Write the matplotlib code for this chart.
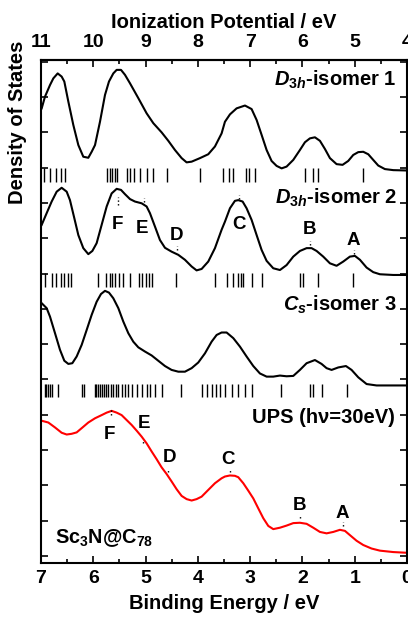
import matplotlib
matplotlib.use('Agg')
import matplotlib.pyplot as plt
from matplotlib.ticker import MultipleLocator

# ---- data (binding energy in eV, intensity in arb. units) ----
iso1_x = [6.987, 6.924, 6.828, 6.764, 6.681, 6.605, 6.554, 6.477, 6.382, 6.286, 6.191, 6.095, 6.031,
          5.967, 5.872, 5.776, 5.700, 5.617, 5.553, 5.470, 5.394, 5.298, 5.139, 4.980, 4.852, 4.693,
          4.565, 4.438, 4.310, 4.215, 4.119, 3.960, 3.801, 3.673, 3.546, 3.482, 3.386, 3.259, 3.099,
          2.972, 2.876, 2.781, 2.685, 2.590, 2.494, 2.398, 2.303, 2.175, 2.048, 1.952, 1.857, 1.761,
          1.665, 1.570, 1.474, 1.347, 1.232, 1.124, 1.028, 0.932, 0.837, 0.741, 0.646, 0.550, 0.423,
          0.263, 0.008]
iso1_y = [12.68, 13.01, 13.34, 13.53, 13.67, 13.58, 13.44, 12.87, 12.21, 11.64, 11.31, 11.28, 11.45,
          11.64, 12.30, 13.06, 13.44, 13.67, 13.77, 13.77, 13.63, 13.39, 12.97, 12.54, 12.26, 12.00,
          11.76, 11.50, 11.27, 11.15, 11.17, 11.27, 11.38, 11.60, 11.97, 12.30, 12.51, 12.68, 12.76,
          12.66, 12.35, 11.93, 11.50, 11.19, 11.05, 10.98, 11.03, 11.22, 11.50, 11.72, 11.83, 11.86,
          11.76, 11.53, 11.27, 11.10, 11.08, 11.19, 11.36, 11.44, 11.45, 11.38, 11.22, 11.06, 10.96,
          10.93, 10.92]
iso1_sticks = [6.943, 6.828, 6.713, 6.618, 6.541, 5.744, 5.681, 5.633, 5.585, 5.537, 5.361, 5.298,
               5.222, 5.107, 4.973, 4.859, 4.597, 3.960, 3.514, 3.405, 3.335, 3.080, 3.017, 2.908,
               1.952, 1.799, 1.698, 0.837]

iso2_x = [6.987, 6.892, 6.796, 6.700, 6.605, 6.509, 6.446, 6.363, 6.286, 6.191, 6.095, 6.018, 5.936,
          5.840, 5.744, 5.649, 5.553, 5.470, 5.394, 5.298, 5.203, 5.075, 4.980, 4.916, 4.820, 4.725,
          4.629, 4.502, 4.374, 4.247, 4.119, 4.024, 3.928, 3.801, 3.673, 3.546, 3.482, 3.386, 3.291,
          3.227, 3.144, 3.068, 2.972, 2.876, 2.781, 2.685, 2.558, 2.430, 2.303, 2.175, 2.048, 1.920,
          1.825, 1.729, 1.602, 1.474, 1.347, 1.219, 1.092, 0.996, 0.900, 0.773, 0.646, 0.518, 0.263,
          0.008]
iso2_y = [9.38, 9.71, 10.04, 10.32, 10.43, 10.32, 10.08, 9.57, 9.09, 8.72, 8.55, 8.64, 8.86,
          9.38, 9.90, 10.27, 10.40, 10.37, 10.25, 10.11, 10.04, 9.99, 9.90, 9.71, 9.33, 8.95,
          8.73, 8.62, 8.53, 8.39, 8.20, 8.09, 8.13, 8.34, 8.72, 9.24, 9.47, 9.85, 10.06,
          10.08, 10.04, 9.85, 9.52, 9.09, 8.67, 8.36, 8.15, 8.10, 8.24, 8.48, 8.64, 8.72,
          8.72, 8.64, 8.48, 8.29, 8.22, 8.34, 8.48, 8.50, 8.39, 8.17, 8.04, 7.98, 7.96,
          7.96]
iso2_sticks = [6.933, 6.790, 6.713, 6.627, 6.560, 6.493, 6.417, 5.904, 5.757, 5.681, 5.642, 5.576,
               5.509, 5.432, 5.289, 5.126, 5.063, 4.992, 4.935, 4.868, 4.413, 3.673, 3.449, 3.329,
               3.233, 3.182, 3.132, 2.966, 2.780, 2.048, 1.981, 1.694, 1.029]

iso3_x = [6.987, 6.892, 6.828, 6.732, 6.637, 6.554, 6.477, 6.401, 6.318, 6.222, 6.127, 6.031, 5.936,
          5.853, 5.776, 5.700, 5.617, 5.521, 5.426, 5.330, 5.235, 5.139, 5.011, 4.884, 4.757, 4.629,
          4.502, 4.374, 4.247, 4.119, 3.992, 3.864, 3.737, 3.641, 3.546, 3.450, 3.322, 3.195, 3.068,
          2.940, 2.813, 2.685, 2.558, 2.430, 2.303, 2.175, 2.048, 1.920, 1.761, 1.634, 1.538, 1.442,
          1.315, 1.168, 1.060, 0.932, 0.773, 0.582, 0.008]
iso3_y = [7.16, 7.02, 6.78, 6.31, 5.84, 5.53, 5.44, 5.46, 5.65, 5.98, 6.40, 6.83, 7.20,
          7.42, 7.51, 7.46, 7.30, 7.02, 6.64, 6.31, 6.07, 5.91, 5.79, 5.68, 5.53, 5.38,
          5.27, 5.22, 5.22, 5.32, 5.48, 5.74, 6.07, 6.26, 6.33, 6.33, 6.17, 5.93, 5.65,
          5.38, 5.17, 5.08, 5.08, 5.11, 5.09, 5.10, 5.27, 5.46, 5.55, 5.44, 5.32, 5.27,
          5.34, 5.38, 5.27, 5.06, 4.87, 4.83, 4.83]
iso3_sticks = [6.933, 6.904, 6.866, 6.828, 6.790, 6.675, 6.222, 6.178, 5.967, 5.939, 5.910, 5.872,
               5.839, 5.795, 5.757, 5.713, 5.667, 5.618, 5.566, 5.522, 5.457, 5.394, 5.331, 5.266,
               5.170, 5.075, 4.979, 4.916, 4.820, 4.692, 4.329, 3.927, 3.832, 3.730, 3.654, 3.577,
               3.482, 3.354, 3.227, 3.099, 2.966, 2.417, 1.857, 1.794, 1.633, 1.155]

ups_x = [6.987, 6.860, 6.732, 6.605, 6.509, 6.414, 6.318, 6.222, 6.095, 5.967, 5.840, 5.744, 5.649,
         5.553, 5.458, 5.362, 5.266, 5.171, 5.075, 4.980, 4.884, 4.788, 4.693, 4.597, 4.502, 4.406,
         4.310, 4.215, 4.119, 4.024, 3.928, 3.801, 3.673, 3.546, 3.482, 3.386, 3.291, 3.227, 3.131,
         3.036, 2.940, 2.845, 2.749, 2.653, 2.558, 2.430, 2.303, 2.175, 2.048, 1.920, 1.793, 1.665,
         1.538, 1.410, 1.283, 1.187, 1.092, 0.964, 0.837, 0.678, 0.518, 0.263, 0.008]
ups_y = [3.83, 3.78, 3.64, 3.49, 3.44, 3.46, 3.50, 3.62, 3.78, 3.90, 3.99, 4.06, 4.11,
         4.06, 3.99, 3.85, 3.71, 3.55, 3.38, 3.19, 2.96, 2.74, 2.51, 2.32, 2.11, 1.89,
         1.70, 1.61, 1.57, 1.61, 1.68, 1.87, 2.06, 2.20, 2.25, 2.28, 2.27, 2.23, 2.06,
         1.85, 1.63, 1.35, 1.07, 0.85, 0.76, 0.80, 0.86, 0.93, 0.94, 0.91, 0.80, 0.68,
         0.64, 0.68, 0.74, 0.71, 0.59, 0.43, 0.31, 0.21, 0.15, 0.11, 0.09]

peak_names = ['F', 'E', 'D', 'C', 'B', 'A']
# peak labels and marker positions for D3h-isomer 2
calc_peak_x = [5.522, 5.031, 4.394, 3.214, 1.857, 1.015]
calc_peak_lo = [9.94, 10.03, 8.67, 10.11, 8.81, 8.56]
calc_peak_hi = [10.18, 10.14, 8.78, 10.23, 8.92, 8.67]
calc_lab_x = [5.534, 5.063, 4.405, 3.214, 1.870, 1.029]
calc_lab_y = [9.38, 9.28, 9.07, 9.40, 9.25, 8.95]
# peak labels and marker positions for UPS
ups_peak_x = [5.662, 5.044, 4.566, 3.386, 2.048, 1.231]
ups_peak_lo = [3.99, 3.20, 2.38, 2.38, 1.08, 0.85]
ups_peak_hi = [4.19, 3.29, 2.46, 2.46, 1.16, 0.96]
ups_lab_x = [5.700, 5.025, 4.533, 3.419, 2.048, 1.231]
ups_lab_y = [3.43, 3.76, 2.80, 2.74, 1.42, 1.19]

plt.rcParams['font.family'] = 'Liberation Sans'
plt.rcParams['font.weight'] = 'bold'
plt.rcParams['mathtext.fontset'] = 'custom'
plt.rcParams['mathtext.rm'] = 'Liberation Sans:bold'
plt.rcParams['mathtext.it'] = 'Liberation Sans:bold:italic'
plt.rcParams['mathtext.bf'] = 'Liberation Sans:bold'

fig = plt.figure(figsize=(4.08, 6.18), dpi=100)
ax = fig.add_axes([41/408, 1-563/618, 366/408, 503/618])

ax.plot(iso1_x, iso1_y, color='k', lw=1.5)
ax.plot(iso2_x, iso2_y, color='k', lw=1.5)
ax.plot(iso3_x, iso3_y, color='k', lw=1.5)
ax.plot(ups_x, ups_y, color='red', lw=1.5)

ax.vlines(iso1_sticks, 10.59, 10.99, color='k', lw=1)
ax.vlines(iso2_sticks, 7.63, 8.01, color='k', lw=1)
ax.vlines(iso3_sticks, 4.50, 4.88, color='k', lw=1)

ax.vlines(calc_peak_x, calc_peak_lo, calc_peak_hi, color='k', lw=1, linestyles=':')
ax.vlines(ups_peak_x, ups_peak_lo, ups_peak_hi, color='k', lw=1, linestyles=':')
for i in range(len(peak_names)):
    ax.text(calc_lab_x[i], calc_lab_y[i], peak_names[i], fontsize=13.5, ha='center', va='center')
    ax.text(ups_lab_x[i], ups_lab_y[i], peak_names[i], fontsize=13.5, ha='center', va='center')

ax.text(0.193, 13.48, r'$D_{3h}$-isomer 1', fontsize=14.5, ha='right', va='center')
ax.text(0.193, 10.14, r'$D_{3h}$-isomer 2', fontsize=14.5, ha='right', va='center')
ax.text(0.193, 7.11, r'$C_{s}$-isomer 3', fontsize=14.5, ha='right', va='center')
ax.text(0.231, 3.91, 'UPS (h\u03bd=30eV)', fontsize=14.5, ha='right', va='center')
ax.text(6.732, 0.51, r'Sc$_3$N@C$_{78}$', fontsize=14.3, ha='left', va='center')

ax.set_xlim(7, 0)
ax.set_ylim(-0.2, 14.05)
ax.set_xticks(range(8))
ax.xaxis.set_minor_locator(MultipleLocator(0.5))
ax.set_yticks(range(15))
ax.set_yticklabels([])
ax.tick_params(axis='x', which='major', direction='in', length=5, width=1.2, labelsize=14, pad=5)
ax.tick_params(axis='x', which='minor', direction='in', length=3, width=1.2)
ax.tick_params(axis='y', direction='in', left=True, right=True, length=5, width=1.2)
for s in ax.spines.values():
    s.set_linewidth(1.5)
ax.set_xlabel('Binding Energy / eV', fontsize=14.5, fontweight='bold', labelpad=5)

secax = ax.secondary_xaxis('top', functions=(lambda b: b + 4, lambda p: p - 4))
secax.set_xticks(range(4, 12))
secax.xaxis.set_minor_locator(MultipleLocator(0.5))
secax.tick_params(axis='x', which='major', direction='in', length=5, width=1.2, labelsize=14, pad=6.5)
secax.tick_params(axis='x', which='minor', direction='in', length=3, width=1.2)
secax.spines['top'].set_linewidth(1.5)
secax.set_xlabel('Ionization Potential / eV', fontsize=14.5, fontweight='bold', labelpad=4)

fig.text(18/408, 1-122/618, 'Density of States', rotation=90, fontsize=14.5, fontweight='bold',
         ha='center', va='center')

fig.savefig('out.png', dpi=100)
